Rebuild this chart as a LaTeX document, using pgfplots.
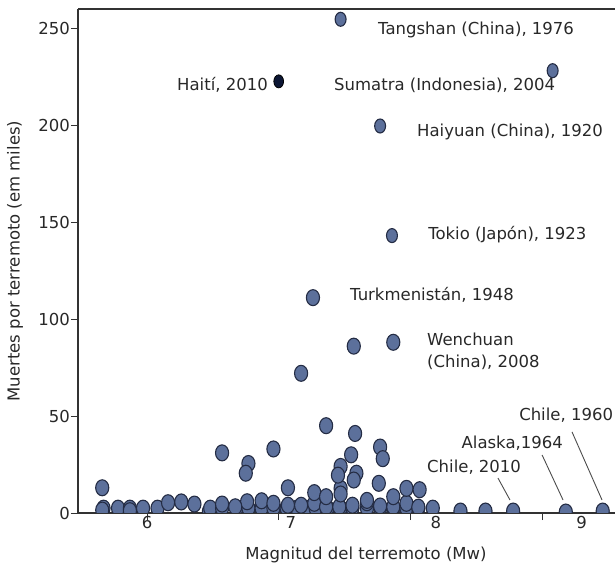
\documentclass[border=0pt]{standalone}
\usepackage{fontspec}
\setmainfont{DejaVu Sans}
\usepackage{pgfplots}
\pgfplotsset{compat=1.18}
\definecolor{ptfill}{RGB}{92,112,155}
\definecolor{ptedge}{RGB}{36,44,68}
\definecolor{haiti}{RGB}{12,22,52}
\definecolor{txt}{RGB}{40,40,40}
\definecolor{axcol}{RGB}{50,50,50}
\begin{document}
\begin{tikzpicture}[font=\fontsize{16.5bp}{20bp}\selectfont]
\begin{axis}[
  scale only axis, width=537bp, height=504bp,
  xmin=5.476, xmax=9.5535, ymin=0, ymax=259.8,
  axis lines*=left,
  axis line style={axcol, line width=1.2bp},
  tick style={axcol, line width=1bp},
  tick align=outside,
  major tick length=7bp,
  xtick={6,7,8,9}, xticklabels={},
  extra x ticks={6,7.093,8.194,9.30},
  extra x tick labels={6,7,8,9},
  extra x tick style={major tick length=0pt},
  ytick={0,50,100,150,200,250},
  yticklabel style={inner xsep=1bp},
  /pgf/number format/assume math mode=true,
  tick label style={font=\fontsize{16.5bp}{20bp}\selectfont, text=txt},
  clip marker paths=true,
]
% main cluster (big marks)
\addplot[only marks, mark=*, mark size=8bp, mark options={xscale=0.82, fill=ptfill, draw=ptedge, line width=1.1bp}] coordinates {
(5.67,2.5) (5.78,2.5) (5.87,2.5) (5.97,2.5) (6.08,2.5) (6.47,0.8) (6.48,2.5) (6.57,2.5) (6.68,2.5) (6.77,2.5)
(6.87,2.5) (6.96,2.5) (7.06,2.5) (7.14,2.5) (7.20,2.5) (7.28,2.5) (7.37,2.5) (7.47,2.5) (7.56,2.5) (7.67,2.5)
(7.77,2.5) (7.87,2.5) (7.97,2.5) (8.06,2.5) (8.17,2.5)
(8.38,1) (8.57,1) (8.78,1) (9.18,0.5) (9.46,1)
(5.66,1.5) (5.87,1.2)
(7.67,5.3) (6.16,5.3) (6.26,5.7) (6.36,4.6) (6.57,4.6) (6.87,6.3) (6.96,5) (7.07,4) (6.76,5.8) (6.67,3.2)
(7.17,4) (7.27,5) (7.36,3.2) (7.46,3.2) (7.56,4) (7.77,3.6) (7.87,3.2) (7.97,5) (7.67,6.5) (8.06,3)
(5.66,13) (7.07,13) (7.27,10.5) (7.47,12.7) (7.47,9.8) (7.36,8.4) (7.87,8.4) (7.97,12.7) (8.07,12) (7.76,15.3)
(6.77,25.5) (6.75,20.5) (7.47,24) (7.45,19.5) (7.59,20.5) (7.57,17)
(6.57,31) (6.96,33) (7.77,34) (7.79,28) (7.55,30)
(7.36,45) (7.58,41) (7.17,72) (7.57,86) (7.87,88) (7.26,111)
};
% upper labelled points (smaller marks)
\addplot[only marks, mark=*, mark size=7bp, mark options={xscale=0.78, fill=ptfill, draw=ptedge, line width=1.1bp}] coordinates {
(7.47,254.5) (9.08,228) (7.77,199.5) (7.86,143)
};
% Haiti
\addplot[only marks, mark=*, mark size=6.5bp, mark options={xscale=0.75, fill=haiti, draw=black, line width=0.8bp}] coordinates {
(7.0,222.5)
};
% leader lines
\draw[gray!60!black, line width=0.9bp] (axis cs:8.665,18) -- (axis cs:8.756,6.7);
\draw[gray!60!black, line width=0.9bp] (axis cs:9.0,29.9) -- (axis cs:9.159,6.7);
\draw[gray!60!black, line width=0.9bp] (axis cs:9.227,41.8) -- (axis cs:9.455,6.7);
% annotations
\begin{scope}[every node/.style={text=txt, inner sep=0pt}]
\node[anchor=west] at (axis cs:7.754,249.0) {Tangshan (China), 1976};
\node[anchor=west] at (axis cs:7.42,220.6) {Sumatra (Indonesia), 2004};
\node[anchor=east] at (axis cs:6.919,220.6) {Haití, 2010};
\node[anchor=west] at (axis cs:8.05,196.4) {Haiyuan (China), 1920};
\node[anchor=west] at (axis cs:8.134,143.3) {Tokio (Japón), 1923};
\node[anchor=west] at (axis cs:7.541,112.4) {Turkmenistán, 1948};
\node[anchor=west, align=left, font=\fontsize{16.5bp}{22bp}\selectfont] at (axis cs:8.126,83.5) {Wenchuan\\(China), 2008};
\node[anchor=west] at (axis cs:8.126,23.7) {Chile, 2010};
\node[anchor=east] at (axis cs:9.159,36.1) {Alaska,1964};
\node[anchor=west] at (axis cs:8.825,50.5) {Chile, 1960};
\end{scope}
\end{axis}
\draw[axcol, line width=1.5bp] (current axis.north west) -- (current axis.north east);
\node[rotate=90, text=txt] at ([xshift=-63bp]current axis.west) {Muertes por terremoto (em miles)};
\node[text=txt] at ([xshift=288bp, yshift=-42bp]current axis.south west) {Magnitud del terremoto (Mw)};
\pgfresetboundingbox
\path ([shift={(-78bp,-57bp)}]current axis.south west) rectangle ([shift={(0bp,9bp)}]current axis.north east);
\end{tikzpicture}
\end{document}
